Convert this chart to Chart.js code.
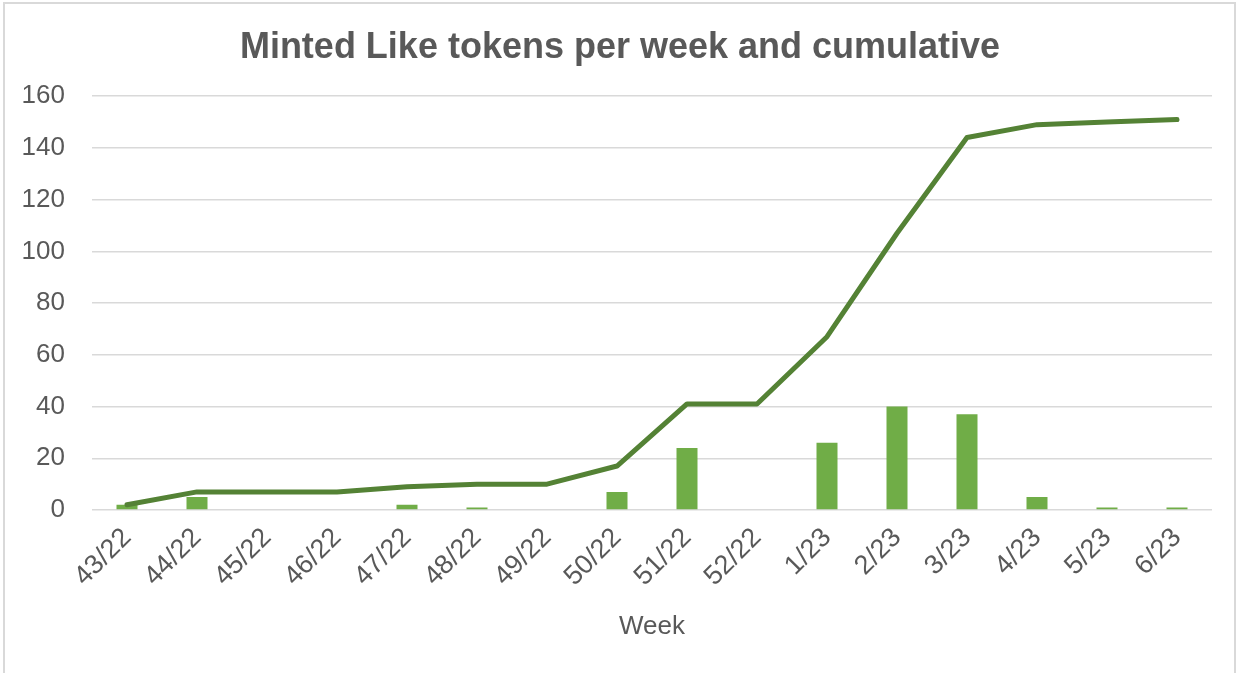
<!DOCTYPE html>
<html lang="en">
<head>
  <meta charset="UTF-8" />
  <title>Minted Like tokens per week and cumulative</title>
  <script src="https://cdn.jsdelivr.net/npm/chart.js"></script>
  <style>
    html, body {
      margin: 0;
      padding: 0;
      background: #ffffff;
    }
    .chart-box {
      position: absolute;
      left: 3px;
      top: 2px;
      width: 1233px;
      height: 680px;
      border: 2px solid #d9d9d9;
      box-sizing: border-box;
    }
    #chart {
      position: absolute;
      left: 0;
      top: 0;
    }
  </style>
</head>
<body>

  <div class="chart-box"></div>
  <canvas id="chart" width="1239" height="673"></canvas>

  <script>
    const weeks = ['43/22', '44/22', '45/22', '46/22', '47/22', '48/22', '49/22', '50/22',
                   '51/22', '52/22', '1/23', '2/23', '3/23', '4/23', '5/23', '6/23'];
    const mintedPerWeek = [2, 5, 0, 0, 2, 1, 0, 7, 24, 0, 26, 40, 37, 5, 1, 1];
    const cumulative = [2, 7, 7, 7, 9, 10, 10, 17, 41, 41, 67, 107, 144, 149, 150, 151];
    const yTicks = [0, 20, 40, 60, 80, 100, 120, 140, 160];

    const grey = '#595959';
    const fontFamily = '"Liberation Sans", Arial, sans-serif';

    // nudge the title a bit to the right, like the original
    const shiftTitle = {
      id: 'shiftTitle',
      afterLayout(chart) {
        if (chart.titleBlock) chart.titleBlock.left += 28;
      }
    };

    const ctx = document.getElementById('chart').getContext('2d');
    new Chart(ctx, {
      data: {
        labels: weeks,
        datasets: [
          {
            type: 'line',
            label: 'Cumulative',
            data: cumulative,
            borderColor: '#548235',
            borderWidth: 5,
            pointRadius: 0,
            tension: 0,
            borderCapStyle: 'round',
            borderJoinStyle: 'round',
            order: 0
          },
          {
            type: 'bar',
            label: 'Minted per week',
            data: mintedPerWeek,
            backgroundColor: '#70ad47',
            categoryPercentage: 1,
            barPercentage: 0.3,
            order: 1
          }
        ]
      },
      options: {
        responsive: false,
        animation: false,
        layout: { padding: { left: 0, right: 27, top: 0, bottom: 31 } },
        plugins: {
          legend: { display: false },
          tooltip: { enabled: false },
          title: {
            display: true,
            text: 'Minted Like tokens per week and cumulative',
            color: grey,
            font: { family: fontFamily, size: 36, weight: 'bold' },
            padding: { top: 26, bottom: 27 }
          }
        },
        scales: {
          x: {
            grid: { display: false },
            border: { display: false },
            ticks: {
              color: grey,
              font: { family: fontFamily, size: 27 },
              minRotation: 45,
              maxRotation: 45,
              autoSkip: false,
              padding: 4
            },
            title: {
              display: true,
              text: 'Week',
              color: grey,
              font: { family: fontFamily, size: 26 },
              padding: 0
            },
            afterFit: scale => { scale.height = 673 - 510 - 31; }
          },
          y: {
            min: 0,
            max: 160,
            afterBuildTicks: scale => { scale.ticks = yTicks.map(v => ({ value: v })); },
            grid: { color: '#d9d9d9', lineWidth: 1.5, drawTicks: false },
            border: { display: false },
            ticks: {
              color: grey,
              font: { family: fontFamily, size: 26 },
              padding: 27
            },
            afterFit: scale => { scale.width = 92; }
          }
        }
      },
      plugins: [shiftTitle]
    });
  </script>

</body>
</html>
